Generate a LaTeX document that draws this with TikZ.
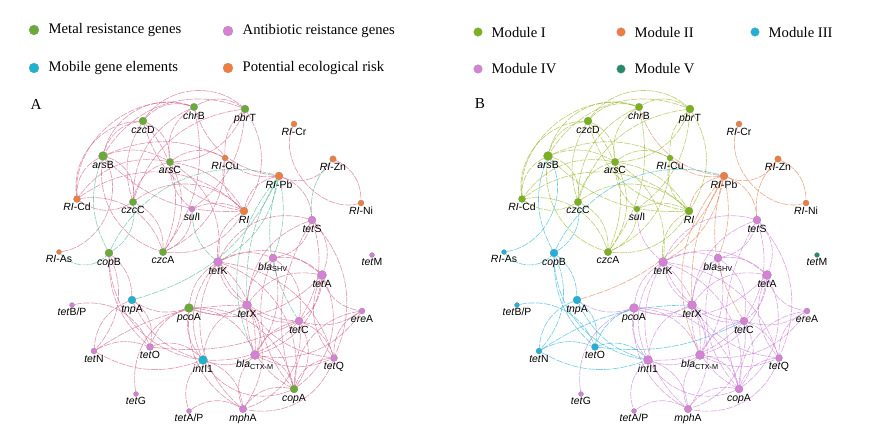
\documentclass[tikz,border=0pt]{standalone}
\usepackage{fontspec}
\setmainfont{Liberation Serif}
\setsansfont{Liberation Sans}
\usetikzlibrary{positioning,backgrounds}
\definecolor{mrg}{RGB}{106,170,55}
\definecolor{arg}{RGB}{214,128,214}
\definecolor{mge}{RGB}{28,178,210}
\definecolor{risk}{RGB}{240,125,62}
\definecolor{mI}{RGB}{122,178,26}
\definecolor{mII}{RGB}{240,125,62}
\definecolor{mIII}{RGB}{28,178,220}
\definecolor{mIV}{RGB}{214,128,214}
\definecolor{mV}{RGB}{36,140,100}
\definecolor{ep}{RGB}{205,95,130}
\definecolor{et}{RGB}{80,180,145}
\definecolor{eI}{RGB}{150,180,40}
\definecolor{eII}{RGB}{225,125,78}
\definecolor{eIII}{RGB}{35,175,210}
\definecolor{eIV}{RGB}{200,120,210}
\newcommand{\gn}[2]{\textit{#1}#2}

\begin{document}
\begin{tikzpicture}[x=0.03cm, y=-0.03cm,
    gene/.style={circle, draw=black!45, line width=.2pt, inner sep=0pt},
    lab/.style={font=\fontsize{8.9}{10}\selectfont\sffamily, inner sep=.5pt},
    edge/.style={line width=.55pt, opacity=.62, dash pattern=on 6pt off 1pt},
    dot/.style={circle, draw=black!40, line width=.2pt, inner sep=0pt},
    leg/.style={font=\fontsize{12.5}{14}\selectfont, inner sep=0pt, anchor=west},
    panel/.style={font=\fontsize{13}{15}\selectfont}]
    \useasboundingbox (0,0) rectangle (871,444);

    % Legend A
    \node[dot, minimum size=.3cm, fill=mrg] (k-mrg) at (34,30) {};
    \node[leg, right=.28cm of k-mrg] (t-mrg) {Metal resistance genes};
    \node[dot, minimum size=.3cm, fill=mge] (k-mge) at (34,68) {};
    \node[leg, right=.28cm of k-mge] (t-mge) {Mobile gene elements};
    \node[dot, minimum size=.3cm, fill=arg] (k-arg) at (228,31) {};
    \node[leg, right=.28cm of k-arg] (t-arg) {Antibiotic reistance genes};
    \node[dot, minimum size=.3cm, fill=risk] (k-risk) at (228,68) {};
    \node[leg, right=.28cm of k-risk] (t-risk) {Potential ecological risk};

    % Legend B
    \node[dot, minimum size=.26cm, fill=mI] (k-mI) at (478,32) {};
    \node[leg, right=.27cm of k-mI] (t-mI) {Module I};
    \node[dot, minimum size=.26cm, fill=mII] (k-mII) at (621,32) {};
    \node[leg, right=.27cm of k-mII] (t-mII) {Module II};
    \node[dot, minimum size=.26cm, fill=mIII] (k-mIII) at (755,32) {};
    \node[leg, right=.27cm of k-mIII] (t-mIII) {Module III};
    \node[dot, minimum size=.26cm, fill=mIV] (k-mIV) at (478,69) {};
    \node[leg, right=.27cm of k-mIV] (t-mIV) {Module IV};
    \node[dot, minimum size=.26cm, fill=mV] (k-mV) at (621,69) {};
    \node[leg, right=.27cm of k-mV] (t-mV) {Module V};

    % Panel letters
    \node[panel] (pA) at (36,104) {A};
    \node[panel] (pB) at (480,104) {B};

    % Genes: name/x/y/diameter/colour in A/colour in B/label
    \foreach \n/\x/\y/\s/\ca/\cb/\lab in {
        czcD/143/121/8/mrg/mI/{\gn{czc}{D}},
        chrB/194/107/7.5/mrg/mI/{\gn{chr}{B}},
        pbrT/245/109/8/mrg/mI/{\gn{pbr}{T}},
        arsB/103/156/9/mrg/mI/{\gn{ars}{B}},
        arsC/170/162/7.5/mrg/mI/{\gn{ars}{C}},
        czcC/133/202/7.5/mrg/mI/{\gn{czc}{C}},
        czcA/163/252/7.5/mrg/mI/{\gn{czc}{A}},
        copB/109/253/8/mrg/mIII/{\gn{cop}{B}},
        pcoA/189/308/9/mrg/mIV/{\gn{pco}{A}},
        copA/294/389/8/mrg/mIV/{\gn{cop}{A}},
        RlCr/294/124/6/risk/mII/{\gn{RI}{-Cr}},
        RlCu/225/158/6/risk/mI/{\gn{RI}{-Cu}},
        RlZn/333/159/6.5/risk/mII/{\gn{RI}{-Zn}},
        RlPb/279/176/8/risk/mII/{\gn{RI}{-Pb}},
        RlNi/361/203/6/risk/mII/{\gn{RI}{-Ni}},
        Rl/244/211/8/risk/mI/{\gn{RI}{}},
        RlCd/77/199/7/risk/mI/{\gn{RI}{-Cd}},
        RlAs/59/252/5/risk/mIII/{\gn{RI}{-As}},
        sulI/192/209/6/arg/mI/{\gn{sul}{I}},
        tetS/312/220/8/arg/mIV/{\gn{tet}{S}},
        tetM/372/255/5/arg/mV/{\gn{tet}{M}},
        tetK/218/262/9/arg/mIV/{\gn{tet}{K}},
        blaSHV/273/258/8/arg/mIV/{\gn{bla}{\textsubscript{SHV}}},
        tetA/322/275/9/arg/mIV/{\gn{tet}{A}},
        tetX/247/305/9/arg/mIV/{\gn{tet}{X}},
        tetC/299/321/8/arg/mIV/{\gn{tet}{C}},
        ereA/362/311/6/arg/mIV/{\gn{ere}{A}},
        blaCTX/255/355/9/arg/mIV/{\gn{bla}{\textsubscript{CTX-M}}},
        tetQ/334/358/7/arg/mIV/{\gn{tet}{Q}},
        mphA/243/409/7.5/arg/mIV/{\gn{mph}{A}},
        tetBP/72/305/5/arg/mIII/{\gn{tet}{B/P}},
        tetN/94/351/6/arg/mIII/{\gn{tet}{N}},
        tetO/150/347/7/arg/mIII/{\gn{tet}{O}},
        tetG/136/394/5/arg/mIV/{\gn{tet}{G}},
        tetAP/189/411/5/arg/mIV/{\gn{tet}{A/P}},
        tnpA/132/300/8/mge/mIII/{\gn{tnp}{A}},
        intI1/203/360/9/mge/mIV/{\gn{int}{I1}}}{
        \node[gene, fill=\ca, minimum size=\s*0.03cm, label={[lab]below:\lab}] (a-\n) at (\x,\y) {};
        \node[gene, fill=\cb, minimum size=\s*0.03cm, label={[lab]below:\lab}] (b-\n) at (\x+445,\y) {};
    }

    % Correlations: from/to/bend/colour in A/colour in B
    \begin{scope}[on background layer]
    \foreach \u/\v/\b/\ca/\cb in {
        czcD/chrB/20/ep/eI, czcD/arsB/-20/ep/eI, czcD/arsC/20/ep/eI, czcD/czcC/-15/ep/eI,
        czcD/czcA/20/ep/eI, czcD/pbrT/30/ep/eI, czcD/RlCd/-30/ep/eI, czcD/Rl/-20/ep/eI,
        chrB/pbrT/20/ep/eI, chrB/arsB/-30/ep/eI, chrB/arsC/-20/ep/eI, chrB/czcC/-20/ep/eI,
        chrB/czcA/15/ep/eI, chrB/RlCd/-35/ep/eI, pbrT/arsB/-25/ep/eI, pbrT/arsC/20/ep/eI,
        pbrT/RlCu/-15/ep/eI, pbrT/Rl/20/ep/eI, pbrT/czcC/-20/ep/eI, pbrT/sulI/15/ep/eI,
        arsB/arsC/15/ep/eI, arsB/RlCd/-20/ep/eI, arsB/czcC/25/ep/eI, arsB/czcA/-25/ep/eI,
        arsB/Rl/-15/ep/eI, arsB/RlCu/15/ep/eI, arsC/czcC/-20/ep/eI, arsC/czcA/20/ep/eI,
        arsC/RlCd/-20/ep/eI, arsC/Rl/15/ep/eI, arsC/RlCu/20/ep/eI, arsC/sulI/-15/ep/eI,
        czcC/czcA/20/ep/eI, czcC/RlCd/20/ep/eI, czcC/Rl/25/ep/eI, czcA/Rl/-20/ep/eI,
        czcA/RlCu/-20/ep/eI, czcA/RlCd/-25/ep/eI, RlCd/Rl/25/ep/eI, RlCu/Rl/-20/ep/eI,
        sulI/Rl/15/ep/eI, sulI/czcA/20/ep/eI, Rl/tetK/-20/ep/eI, arsC/tetK/20/ep/eI,
        RlCr/RlNi/-40/ep/eII, RlZn/RlNi/20/ep/eII, RlZn/RlPb/25/ep/eII, RlPb/Rl/-20/ep/eII,
        RlPb/RlCu/15/ep/eII, RlPb/chrB/20/ep/eII, RlZn/tetS/-15/et/eII, RlPb/tetK/15/et/eII,
        RlPb/blaSHV/10/et/eII, RlPb/tetX/-10/et/eII, RlPb/tetC/-15/et/eII, RlPb/blaCTX/-20/et/eII,
        RlPb/tetS/20/ep/eII, tnpA/RlPb/-15/et/eII,
        RlAs/copB/-30/et/eIII, RlAs/arsB/-35/ep/eIII, copB/arsB/15/et/eIII, copB/czcC/-20/et/eIII,
        copB/RlPb/25/et/eIII, copB/tnpA/15/ep/eIII, copB/tetN/20/ep/eIII, copB/tetO/-15/ep/eIII,
        copB/intI1/-25/ep/eIII, tnpA/tetO/20/ep/eIII, tnpA/tetN/-20/ep/eIII, tetBP/tetO/25/ep/eIII,
        tetN/tetO/15/ep/eIII, tetN/intI1/-15/ep/eIII, tetO/intI1/20/ep/eIII, tnpA/intI1/-15/ep/eIII,
        tetO/tetC/-10/ep/eIII, tetN/tetX/10/ep/eIII, pcoA/tetO/-15/ep/eIII,
        tetK/blaSHV/15/ep/eIV, tetK/tetA/20/ep/eIV, tetK/tetX/-15/ep/eIV, tetK/tetC/-20/ep/eIV,
        tetK/blaCTX/15/ep/eIV, tetK/pcoA/-15/ep/eIV, tetK/intI1/-20/ep/eIV, tetK/copA/25/ep/eIV,
        tetK/tetS/25/ep/eIV, tetK/mphA/-25/ep/eIV, tetK/tetQ/20/ep/eIV, blaSHV/tetA/15/ep/eIV,
        blaSHV/tetX/-15/ep/eIV, blaSHV/tetC/20/ep/eIV, blaSHV/blaCTX/15/ep/eIV, blaSHV/copA/-20/ep/eIV,
        blaSHV/tetS/-20/ep/eIV, tetS/tetA/20/ep/eIV, tetS/tetX/-20/ep/eIV, tetS/tetC/15/ep/eIV,
        tetS/copA/-15/ep/eIV, tetS/tetQ/20/ep/eIV, tetA/tetX/-20/ep/eIV, tetA/tetC/15/ep/eIV,
        tetA/ereA/-20/ep/eIV, tetA/blaCTX/20/ep/eIV, tetA/tetQ/-20/ep/eIV, tetA/copA/25/ep/eIV,
        tetA/pcoA/20/ep/eIV, tetX/tetC/-15/ep/eIV, tetX/blaCTX/20/ep/eIV, tetX/pcoA/15/ep/eIV,
        tetX/intI1/-20/ep/eIV, tetX/copA/-20/ep/eIV, tetX/mphA/20/ep/eIV, tetX/tetQ/-15/ep/eIV,
        tetC/blaCTX/-15/ep/eIV, tetC/copA/20/ep/eIV, tetC/tetQ/15/ep/eIV, tetC/mphA/25/ep/eIV,
        tetC/ereA/-15/ep/eIV, tetC/intI1/15/ep/eIV, ereA/tetQ/-20/ep/eIV, ereA/copA/-25/ep/eIV,
        ereA/blaCTX/20/ep/eIV, blaCTX/tetQ/-15/ep/eIV, blaCTX/copA/20/ep/eIV, blaCTX/mphA/-20/ep/eIV,
        blaCTX/intI1/15/ep/eIV, blaCTX/pcoA/-20/ep/eIV, tetQ/copA/-20/ep/eIV, tetQ/mphA/25/ep/eIV,
        copA/mphA/-20/ep/eIV, copA/intI1/25/ep/eIV, copA/pcoA/-25/ep/eIV, mphA/intI1/-20/ep/eIV,
        mphA/pcoA/20/ep/eIV, intI1/pcoA/15/ep/eIV, intI1/tetAP/-20/ep/eIV, tetAP/mphA/20/ep/eIV,
        tetG/pcoA/25/ep/eIV, pcoA/tnpA/15/ep/eIV, sulI/tetK/-15/et/eIV}{
        \pgfmathsetmacro\bb{1.6*\b}
        \draw[edge, draw=\ca] (a-\u) to[bend left=\bb] (a-\v);
        \draw[edge, draw=\cb] (b-\u) to[bend left=\bb] (b-\v);
    }
    \end{scope}
\end{tikzpicture}
\end{document}
